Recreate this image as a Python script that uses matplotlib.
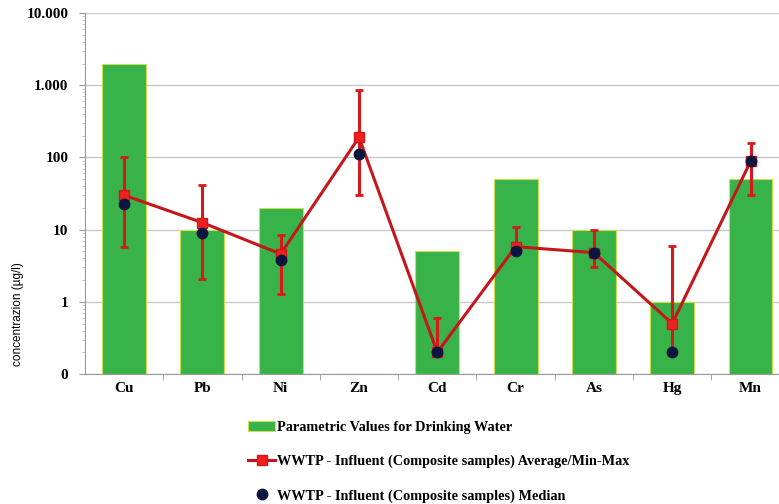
import matplotlib
matplotlib.use("Agg")
import matplotlib.pyplot as plt
import numpy as np
from matplotlib.ticker import FixedLocator, FixedFormatter, LogLocator, NullFormatter

# data (log scale, ug/l)
metals = ['Cu', 'Pb', 'Ni', 'Zn', 'Cd', 'Cr', 'As', 'Hg', 'Mn']
parametric = [2000, 10, 20, np.nan, 5, 50, 10, 1, 50]
average = [30, 12.5, 4.6, 190, 0.2, 5.8, 4.8, 0.5, 88]
max_val = [100, 42, 8.5, 850, 0.6, 11, 10, 6, 158]
min_val = [5.8, 2.1, 1.3, 30, 0.2, 5.0, 3.0, 0.2, 30]
median = [23, 8.9, 3.8, 110, 0.2, 5.0, 4.8, 0.2, 88]

y_ticks = [0.1, 1, 10, 100, 1000, 10000]
y_labels = ['0', '1', '10', '100', '1.000', '10.000']

serif = 'Liberation Serif'

fig = plt.figure(figsize=(7.79, 5.04), dpi=100)
ax = fig.add_axes([0.109, 0.258, 0.891, 0.716])

x = np.arange(len(metals))
ymin = y_ticks[0]

# bars from the bottom of the axis
bar_h = [v - ymin if not np.isnan(v) else 0 for v in parametric]
bars = ax.bar(x, bar_h, bottom=ymin, width=0.56, color='#38b34a',
              edgecolor='#c9e04a', linewidth=0.8, zorder=2,
              label='Parametric Values for Drinking Water')

# average with min/max
avg = np.array(average)
yerr = [avg - np.array(min_val), np.array(max_val) - avg]
ax.errorbar(x, avg, yerr=yerr, fmt='none', ecolor='#d8181c', elinewidth=2.2,
            capsize=3, capthick=2, zorder=3)
avg_line, = ax.plot(x, avg, color='#c4171c', lw=2.2, marker='s', ms=7,
                    mfc='#f02020', mec='#d01818', zorder=4,
                    label='WWTP - Influent (Composite samples) Average/Min-Max')

med, = ax.plot(x, median, ls='none', marker='o', ms=7.5, mfc='#0c1440',
               mec='#0c1440', zorder=5,
               label='WWTP - Influent (Composite samples) Median')

ax.set_yscale('log')
ax.set_ylim(0.1, 10000)
ax.set_xlim(-0.5, -0.5 + (779 - 85) / 78.3)

ax.yaxis.set_major_locator(FixedLocator(y_ticks))
ax.yaxis.set_major_formatter(FixedFormatter(y_labels))
ax.yaxis.set_minor_locator(LogLocator(base=10, subs=np.arange(2, 10)))
ax.yaxis.set_minor_formatter(NullFormatter())
ax.grid(axis='y', which='major', color='#c8c8c8', lw=1.0, zorder=0)
ax.set_axisbelow(True)

ax.set_xticks(x)
ax.set_xticklabels(metals)
ax.set_xticks(np.arange(0.5, len(metals) - 0.5, 1), minor=True)
ax.tick_params(axis='x', which='major', length=0, pad=6)
ax.tick_params(axis='x', which='minor', length=4, color='#999999')
ax.tick_params(axis='y', which='major', length=4, color='#999999', pad=8)
ax.tick_params(axis='y', which='minor', length=2, color='#bbbbbb')

for lab in ax.get_xticklabels() + ax.get_yticklabels():
    lab.set_fontfamily(serif)
    lab.set_fontweight('bold')
    lab.set_fontsize(11)

for s in ['top', 'right']:
    ax.spines[s].set_visible(False)
ax.spines['left'].set_color('#999999')
ax.spines['bottom'].set_color('#999999')

ax.set_ylabel('concentrazion (µg/l)', fontsize=8.5, family='Liberation Sans')
ax.yaxis.set_label_coords(-0.088, 0.165)

fig.legend(handles=[bars, avg_line, med], loc='upper left',
           bbox_to_anchor=(0.302, 0.19), frameon=False, ncol=1,
           labelspacing=1.45, handlelength=1.9, handletextpad=0.15,
           prop={'family': serif, 'weight': 'bold', 'size': 10.3})

fig.savefig('out.png', dpi=100)
